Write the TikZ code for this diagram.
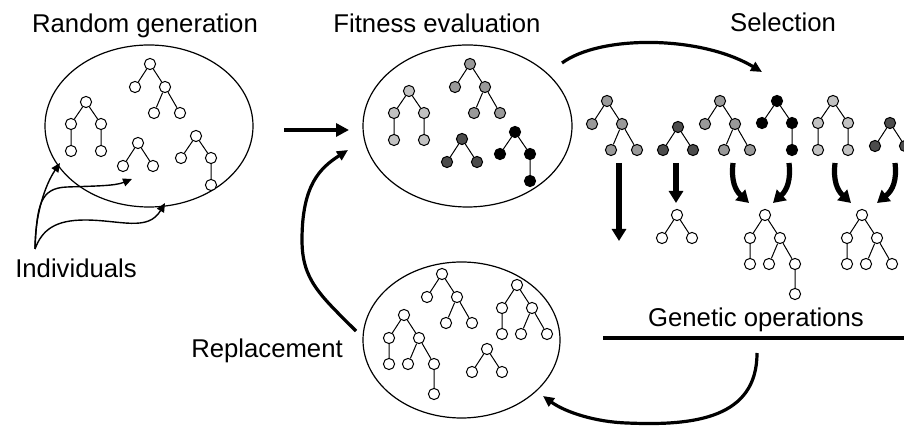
\documentclass[tikz,border=0pt]{standalone}
\usepackage{fontspec}
\setmainfont{Liberation Sans}
\usetikzlibrary{arrows.meta,shapes.geometric}
\definecolor{fitmid}{gray}{0.6}
\definecolor{fitlight}{gray}{0.76}
\definecolor{fitdark}{gray}{0.3}

\begin{document}
\begin{tikzpicture}[x=0.5pt,y=-0.5pt,
  ind/.style={circle,draw,inner sep=0pt,minimum size=5.6pt,line width=0.5pt},
  twig/.style={line width=0.5pt},
  pop/.style={ellipse,draw,inner sep=0pt,line width=0.6pt},
  lbl/.style={anchor=base,font=\fontsize{12.85}{15}\selectfont},
  bigarrow/.style={line width=2.2pt,-{Triangle[length=6.5pt,width=6.5pt]}},
  droparrow/.style={line width=2.6pt,-{Triangle[length=6pt,width=7pt]}},
  bendarrow/.style={line width=1.6pt,-{Triangle[length=5.5pt,width=5pt]}},
  thinarrow/.style={line width=0.7pt,-{Triangle[length=4.5pt,width=4pt]}},
  pics/treeA/.style={code={
    \node[ind,fill=#1] (-r) at (0,0) {};
    \node[ind,fill=#1] (-a) at (-15,23) {};
    \node[ind,fill=#1] (-b) at (15,23) {};
    \node[ind,fill=#1] (-ba) at (4,49) {};
    \node[ind,fill=#1] (-bb) at (30,49) {};
    \draw[twig] (-r) -- (-a) (-r) -- (-b) (-b) -- (-ba) (-b) -- (-bb);
  }},
  pics/treeB/.style={code={
    \node[ind,fill=#1] (-r) at (0,0) {};
    \node[ind,fill=#1] (-a) at (-15,22) {};
    \node[ind,fill=#1] (-b) at (15,22) {};
    \node[ind,fill=#1] (-aa) at (-15,49) {};
    \node[ind,fill=#1] (-bb) at (15,49) {};
    \draw[twig] (-r) -- (-a) (-r) -- (-b) (-a) -- (-aa) (-b) -- (-bb);
  }},
  pics/treeC/.style={code={
    \node[ind,fill=#1] (-r) at (0,0) {};
    \node[ind,fill=#1] (-a) at (-15,23) {};
    \node[ind,fill=#1] (-b) at (15,23) {};
    \draw[twig] (-r) -- (-a) (-r) -- (-b);
  }},
  pics/treeD/.style={code={
    \node[ind,fill=#1] (-r) at (0,0) {};
    \node[ind,fill=#1] (-a) at (-15,22) {};
    \node[ind,fill=#1] (-b) at (15,22) {};
    \node[ind,fill=#1] (-bb) at (15,49) {};
    \draw[twig] (-r) -- (-a) (-r) -- (-b) (-b) -- (-bb);
  }},
  pics/treeE/.style={code={
    \node[ind,fill=#1] (-r) at (0,0) {};
    \node[ind,fill=#1] (-a) at (-15,23) {};
    \node[ind,fill=#1] (-b) at (15,23) {};
    \node[ind,fill=#1] (-aa) at (-15,49) {};
    \node[ind,fill=#1] (-ba) at (4,49) {};
    \node[ind,fill=#1] (-bb) at (30,49) {};
    \node[ind,fill=#1] (-bbb) at (30,79) {};
    \draw[twig] (-r) -- (-a) (-r) -- (-b) (-a) -- (-aa) (-b) -- (-ba) (-b) -- (-bb) (-bb) -- (-bbb);
  }},
  pics/treeF/.style={code={
    \node[ind,fill=#1] (-r) at (0,0) {};
    \node[ind,fill=#1] (-a) at (-15,23) {};
    \node[ind,fill=#1] (-b) at (15,23) {};
    \node[ind,fill=#1] (-aa) at (-15,49) {};
    \node[ind,fill=#1] (-ba) at (4,49) {};
    \node[ind,fill=#1] (-bb) at (30,49) {};
    \draw[twig] (-r) -- (-a) (-r) -- (-b) (-a) -- (-aa) (-b) -- (-ba) (-b) -- (-bb);
  }}]
\useasboundingbox (0,0) rectangle (904,426);
\clip (0,0) rectangle (904,426);

\node[lbl] (lrand) at (145,33) {Random generation};
\node[lbl] (lfit) at (437,33) {Fitness evaluation};
\node[lbl] (lsel) at (783,32) {Selection};
\node[lbl] (lind) at (76,278) {Individuals};
\node[lbl] (lrep) at (267,358) {Replacement};
\node[lbl] (lgen) at (756,327) {Genetic operations};

\node[pop,minimum width=104pt,minimum height=81pt] (rand) at (149,126) {};
\node[pop,minimum width=104.5pt,minimum height=81pt] (fit) at (467.5,126) {};
\node[pop,minimum width=98.5pt,minimum height=78pt] (repl) at (461.5,340) {};

\pic (ra) at (150,64) {treeA=white};
\pic (rb) at (86,102) {treeB=white};
\pic (rc) at (138,143) {treeC=white};
\pic (rd) at (196,136) {treeD=white};

\pic (fa) at (470,64) {treeA=fitmid};
\pic (fb) at (409,91) {treeB=fitlight};
\pic (fc) at (462,139) {treeC=fitdark};
\pic (fd) at (515,132) {treeD=black};

\pic (s1) at (607,101) {treeA=fitmid};
\pic (s2) at (678,127) {treeC=fitdark};
\pic (s3) at (720,101) {treeA=fitmid};
\pic (s4) at (777,101) {treeD=black};
\pic (s5) at (833,101) {treeB=fitlight};
\pic (s6) at (890,123) {treeC=fitdark};

\pic (o1) at (677,215) {treeC=white};
\pic (o2) at (765,215) {treeE=white};
\pic (o3) at (862,215) {treeF=white};

\pic (n1) at (442,274) {treeA=white};
\pic (n2) at (517,285) {treeF=white};
\pic (n3) at (404,315) {treeE=white};
\pic (n4) at (487,349) {treeC=white};

\coordinate (i0) at (35,249);
\coordinate (i1) at (60,163);
\coordinate (i2) at (132,179);
\coordinate (i3) at (165,203);
\draw[thinarrow] (i0) .. controls (35,215) and (45,185) .. (i1);
\draw[thinarrow] (i0) .. controls (37,205) and (40,188) .. (67,187) .. controls (95,186) and (115,186) .. (i2);
\draw[thinarrow] (i0) .. controls (42,230) and (55,220) .. (85,220) .. controls (120,220) and (148,232) .. (i3);

\coordinate (g1) at (284,130);
\coordinate (g2) at (349,130);
\draw[bigarrow] (g1) -- (g2);

\coordinate (r0) at (356,331);
\coordinate (r1) at (348,150);
\draw[bendarrow] (r0) .. controls (320,295) and (302,280) .. (302,240) .. controls (302,185) and (320,168) .. (r1);

\coordinate (e0) at (562,63);
\coordinate (e1) at (762,72);
\draw[bendarrow] (e0) .. controls (600,35) and (700,35) .. (e1);

\coordinate (v1) at (619,163);
\coordinate (v2) at (619,241);
\coordinate (v3) at (676,163);
\coordinate (v4) at (676,203);
\draw[droparrow] (v1) -- (v2);
\draw[droparrow] (v3) -- (v4);

\coordinate (c1) at (733,163);
\coordinate (c2) at (749,203);
\coordinate (c3) at (789,163);
\coordinate (c4) at (773,203);
\coordinate (c5) at (835,163);
\coordinate (c6) at (851,203);
\coordinate (c7) at (895,163);
\coordinate (c8) at (877,203);
\draw[droparrow] (c1) .. controls (731,180) and (735,190) .. (c2);
\draw[droparrow] (c3) .. controls (791,180) and (787,190) .. (c4);
\draw[droparrow] (c5) .. controls (833,180) and (837,190) .. (c6);
\draw[droparrow] (c7) .. controls (897,180) and (893,190) .. (c8);

\coordinate (h1) at (603,338);
\coordinate (h2) at (904,338);
\draw[line width=1.6pt] (h1) -- (h2);

\coordinate (b0) at (757,353);
\coordinate (b1) at (543,396);
\draw[bendarrow] (b0) .. controls (757,418) and (695,426) .. (627,423) .. controls (595,422) and (565,412) .. (b1);
\end{tikzpicture}
\end{document}
